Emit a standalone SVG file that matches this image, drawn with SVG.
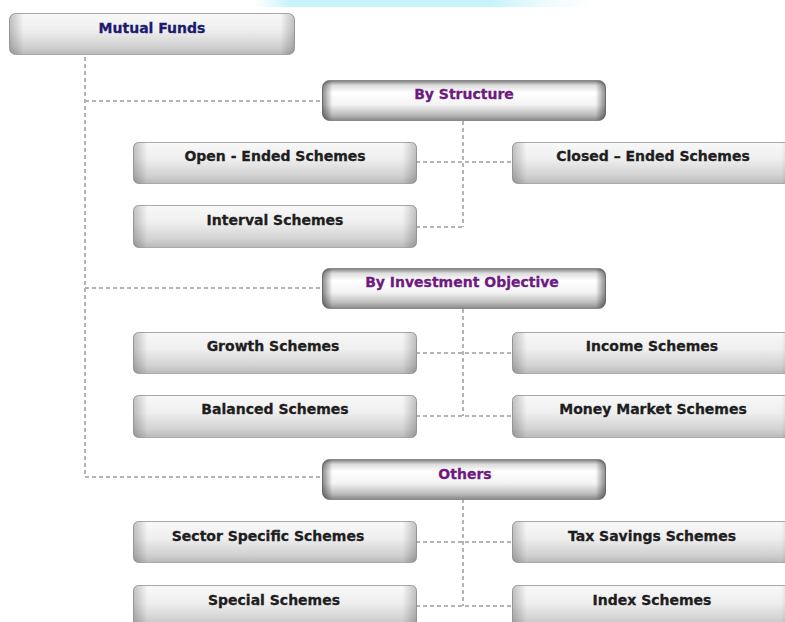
<svg xmlns="http://www.w3.org/2000/svg" width="785" height="622" viewBox="0 0 785 622">
<defs>
<linearGradient id="band" x1="0" y1="0" x2="1" y2="0">
<stop offset="0" stop-color="#c9f3fb" stop-opacity="0"/>
<stop offset="0.1" stop-color="#c9f3fb"/>
<stop offset="0.7" stop-color="#c9f3fb"/>
<stop offset="1" stop-color="#eaf8fb" stop-opacity="0"/>
</linearGradient>
<linearGradient id="subV" x1="0" y1="0" x2="0" y2="1">
<stop offset="0" stop-color="#f8f8f8"/>
<stop offset="0.4" stop-color="#efefef"/>
<stop offset="0.8" stop-color="#d2d2d2"/>
<stop offset="1" stop-color="#bababa"/>
</linearGradient>
<linearGradient id="subH" x1="0" y1="0" x2="1" y2="0">
<stop offset="0" stop-color="#000" stop-opacity="0.22"/>
<stop offset="0.05" stop-color="#000" stop-opacity="0"/>
<stop offset="0.95" stop-color="#000" stop-opacity="0"/>
<stop offset="1" stop-color="#000" stop-opacity="0.22"/>
</linearGradient>
<linearGradient id="catV" x1="0" y1="0" x2="0" y2="1">
<stop offset="0" stop-color="#7c7c7c"/>
<stop offset="0.12" stop-color="#dcdcdc"/>
<stop offset="0.3" stop-color="#ffffff"/>
<stop offset="0.6" stop-color="#f3f3f3"/>
<stop offset="0.85" stop-color="#bdbdbd"/>
<stop offset="1" stop-color="#888888"/>
</linearGradient>
<linearGradient id="catH" x1="0" y1="0" x2="1" y2="0">
<stop offset="0" stop-color="#000" stop-opacity="0.45"/>
<stop offset="0.035" stop-color="#000" stop-opacity="0"/>
<stop offset="0.965" stop-color="#000" stop-opacity="0"/>
<stop offset="1" stop-color="#000" stop-opacity="0.45"/>
</linearGradient>
</defs>
<style>
.sub{fill:url(#subV);stroke:#a9a9a9;stroke-width:1}
.subh{fill:url(#subH)}
.cat{fill:url(#catV);stroke:#8a8a8a;stroke-width:1}
.cath{fill:url(#catH)}
.t{font-family:"DejaVu Sans",Verdana,sans-serif;font-weight:bold;font-size:14px;text-anchor:middle;fill:#1e1e1e;stroke:#1e1e1e;stroke-width:0.3}
.tc{fill:#6e1a80;stroke:#6e1a80}
.tr{fill:#1c1c6e;stroke:#1c1c6e}
.conn{fill:none;stroke:#b4b4b4;stroke-width:2;stroke-dasharray:4 3}
</style>
<rect width="785" height="622" fill="#ffffff"/>
<rect x="255" y="0" width="340" height="7" fill="url(#band)"/>

<g id="connectors">
<path class="conn" d="M85 57 V477"/>
<path class="conn" d="M85 101 H322"/>
<path class="conn" d="M85 288 H322"/>
<path class="conn" d="M85 477 H322"/>
<path class="conn" d="M463 121 V227"/>
<path class="conn" d="M416 162 H512"/>
<path class="conn" d="M416 227 H463"/>
<path class="conn" d="M463 309 V416"/>
<path class="conn" d="M416 353 H512"/>
<path class="conn" d="M416 416 H512"/>
<path class="conn" d="M463 499 V606"/>
<path class="conn" d="M416 542 H512"/>
<path class="conn" d="M416 606 H512"/>
</g>

<g id="mutual-funds">
<rect class="sub" x="9.5" y="13.5" width="285" height="41" rx="6"/>
<rect class="subh" x="9.5" y="13.5" width="285" height="41" rx="6"/>
<text class="t tr" x="152" y="33">Mutual Funds</text>
</g>

<g id="by-structure">
<rect class="cat" x="322.5" y="80.5" width="283" height="40" rx="7"/>
<rect class="cath" x="322.5" y="80.5" width="283" height="40" rx="7"/>
<text class="t tc" x="464" y="99">By Structure</text>
</g>
<g id="open-ended">
<rect class="sub" x="133.5" y="142.5" width="283" height="41" rx="5"/>
<rect class="subh" x="133.5" y="142.5" width="283" height="41" rx="5"/>
<text class="t" x="275" y="161">Open - Ended Schemes</text>
</g>
<g id="closed-ended">
<rect class="sub" x="512.5" y="142.5" width="283" height="41" rx="5"/>
<rect class="subh" x="512.5" y="142.5" width="283" height="41" rx="5"/>
<text class="t" x="653" y="161">Closed – Ended Schemes</text>
</g>
<g id="interval">
<rect class="sub" x="133.5" y="205.5" width="283" height="42" rx="5"/>
<rect class="subh" x="133.5" y="205.5" width="283" height="42" rx="5"/>
<text class="t" x="275" y="225">Interval Schemes</text>
</g>

<g id="by-investment-objective">
<rect class="cat" x="322.5" y="268.5" width="283" height="40" rx="7"/>
<rect class="cath" x="322.5" y="268.5" width="283" height="40" rx="7"/>
<text class="t tc" x="462" y="287">By Investment Objective</text>
</g>
<g id="growth">
<rect class="sub" x="133.5" y="332.5" width="283" height="41" rx="5"/>
<rect class="subh" x="133.5" y="332.5" width="283" height="41" rx="5"/>
<text class="t" x="273" y="351">Growth Schemes</text>
</g>
<g id="income">
<rect class="sub" x="512.5" y="332.5" width="283" height="41" rx="5"/>
<rect class="subh" x="512.5" y="332.5" width="283" height="41" rx="5"/>
<text class="t" x="652" y="351">Income Schemes</text>
</g>
<g id="balanced">
<rect class="sub" x="133.5" y="395.5" width="283" height="42" rx="5"/>
<rect class="subh" x="133.5" y="395.5" width="283" height="42" rx="5"/>
<text class="t" x="275" y="414">Balanced Schemes</text>
</g>
<g id="money-market">
<rect class="sub" x="512.5" y="395.5" width="283" height="42" rx="5"/>
<rect class="subh" x="512.5" y="395.5" width="283" height="42" rx="5"/>
<text class="t" x="653" y="414">Money Market Schemes</text>
</g>

<g id="others">
<rect class="cat" x="322.5" y="459.5" width="283" height="40" rx="7"/>
<rect class="cath" x="322.5" y="459.5" width="283" height="40" rx="7"/>
<text class="t tc" x="465" y="479">Others</text>
</g>
<g id="sector-specific">
<rect class="sub" x="133.5" y="521.5" width="283" height="41" rx="5"/>
<rect class="subh" x="133.5" y="521.5" width="283" height="41" rx="5"/>
<text class="t" x="268" y="541">Sector Specific Schemes</text>
</g>
<g id="tax-savings">
<rect class="sub" x="512.5" y="521.5" width="283" height="41" rx="5"/>
<rect class="subh" x="512.5" y="521.5" width="283" height="41" rx="5"/>
<text class="t" x="652" y="541">Tax Savings Schemes</text>
</g>
<g id="special">
<rect class="sub" x="133.5" y="585.5" width="283" height="42" rx="5"/>
<rect class="subh" x="133.5" y="585.5" width="283" height="42" rx="5"/>
<text class="t" x="274" y="605">Special Schemes</text>
</g>
<g id="index">
<rect class="sub" x="512.5" y="585.5" width="283" height="42" rx="5"/>
<rect class="subh" x="512.5" y="585.5" width="283" height="42" rx="5"/>
<text class="t" x="652" y="605">Index Schemes</text>
</g>
</svg>
